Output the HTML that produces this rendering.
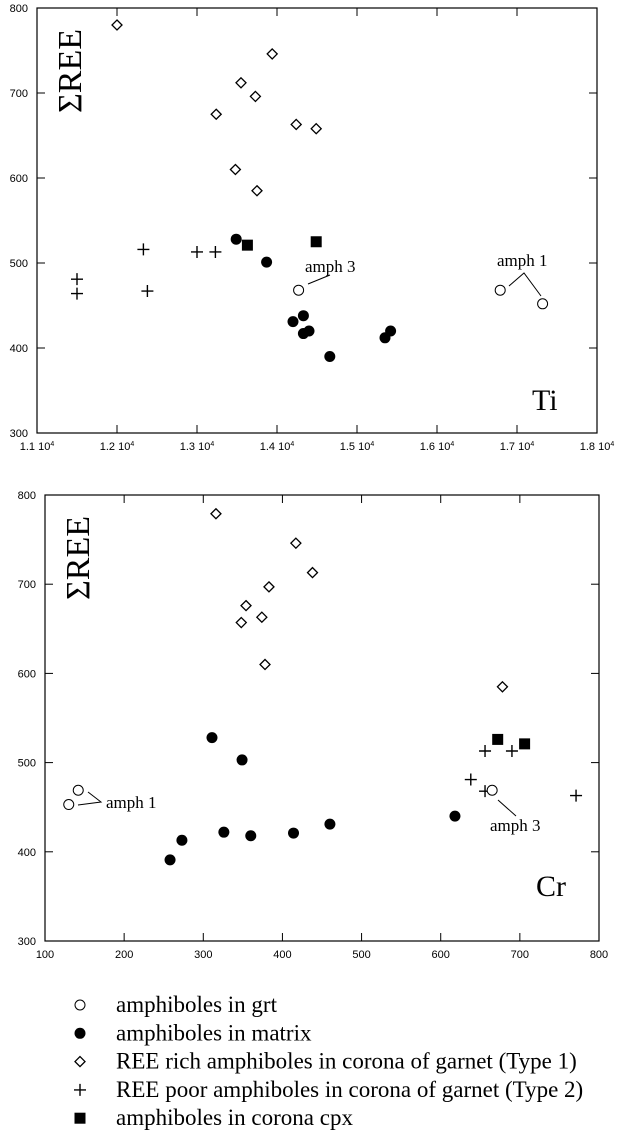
<!DOCTYPE html>
<html><head><meta charset="utf-8"><style>
html,body{margin:0;padding:0;background:#fff;}
svg{display:block;}
.tick{font-family:"Liberation Sans",sans-serif;font-size:11px;fill:#000;}
.serif{font-family:"Liberation Serif",serif;fill:#000;}
</style></head><body>
<svg id="chart" width="627" height="1135" viewBox="0 0 627 1135" xmlns="http://www.w3.org/2000/svg"></svg>
<script>
// ---- Ti panel data ----
const tiDiamondX=[1.20,1.394,1.355,1.373,1.324,1.424,1.449,1.348,1.375];
const tiDiamondY=[780,746,712,696,675,663,658,610,585];
const tiCrossX=[1.15,1.15,1.233,1.238,1.30,1.323];
const tiCrossY=[481,464,516,467,513,513];
const tiFilledX=[1.349,1.387,1.42,1.433,1.433,1.44,1.466,1.535,1.542];
const tiFilledY=[528,501,431,438,417,420,390,412,420];
const tiSquareX=[1.363,1.449];
const tiSquareY=[521,525];
const tiOpenX=[1.427,1.679,1.732];
const tiOpenY=[468,468,452];
const tiXTicks=[1.1,1.2,1.3,1.4,1.5,1.6,1.7,1.8];
const yTicks=[300,400,500,600,700,800];
// ---- Cr panel data ----
const crDiamondX=[316,417,438,383,354,374,348,378,678];
const crDiamondY=[779,746,713,697,676,663,657,610,585];
const crFilledX=[311,349,258,273,326,360,414,460,618];
const crFilledY=[528,503,391,413,422,418,421,431,440];
const crSquareX=[672,706];
const crSquareY=[526,521];
const crCrossX=[656,690,638,656,771];
const crCrossY=[513,513,481,468,463];
const crOpenX=[142,130,665];
const crOpenY=[469,453,469];
const crXTicks=[100,200,300,400,500,600,700,800];

const svg=document.getElementById('chart');
const NS='http://www.w3.org/2000/svg';
function mk(tag,attrs,parent){const e=document.createElementNS(NS,tag);for(const k in attrs)e.setAttribute(k,attrs[k]);(parent||svg).appendChild(e);return e;}

function marker(g,type,cx,cy){
  let e;
  if(type==='open'){e=mk('circle',{cx:cx,cy:cy,r:5,fill:'#fff',stroke:'#000','stroke-width':1},g);}
  else if(type==='filled'){e=mk('circle',{cx:cx,cy:cy,r:5.5,fill:'#000'},g);}
  else if(type==='diamond'){e=mk('path',{d:`M${cx} ${cy-5}L${cx+5} ${cy}L${cx} ${cy+5}L${cx-5} ${cy}Z`,fill:'#fff',stroke:'#000','stroke-width':1.3},g);}
  else if(type==='cross'){e=mk('path',{d:`M${cx-6} ${cy}H${cx+6}M${cx} ${cy-6}V${cy+6}`,stroke:'#000','stroke-width':1.4,fill:'none'},g);}
  else {e=mk('rect',{x:cx-5.5,y:cy-5.5,width:11,height:11,fill:'#000'},g);}
  return e;
}

function panel(p){
  const g=mk('g',{});
  
  
  const sx=v=>p.L+(v-p.xmin)/(p.xmax-p.xmin)*(p.R-p.L);
  const sy=v=>p.B-(v-300)/500*(p.B-p.T);
  const fr=mk('rect',{x:p.L,y:p.T,width:p.R-p.L,height:p.B-p.T,fill:'none',stroke:'#000','stroke-width':1.2},g);
  
  
  p.xt.forEach((t,i)=>{
    const x=sx(t);
    mk('line',{x1:x,y1:p.B,x2:x,y2:p.B-8,stroke:'#000'},g);
    mk('line',{x1:x,y1:p.T,x2:x,y2:p.T+8,stroke:'#000'},g);
    const tx=mk('text',{x:x,y:p.B+17,'text-anchor':'middle',class:'tick'},g);
    
    
    if(p.sci){tx.textContent=t.toFixed(1)+' 10';const s=mk('tspan',{dy:-4,'font-size':7},tx);s.textContent='4';}
    else tx.textContent=t;
  });
  yTicks.forEach(t=>{
    const y=sy(t);
    mk('line',{x1:p.L,y1:y,x2:p.L+8,y2:y,stroke:'#000'},g);
    mk('line',{x1:p.R,y1:y,x2:p.R-8,y2:y,stroke:'#000'},g);
    const tx=mk('text',{x:p.L-9,y:y+4,'text-anchor':'end',class:'tick'},g);
    
    
    tx.textContent=t;
  });
  p.series.forEach(s=>{
    s.x.forEach((v,i)=>{
      const m=marker(g,s.type,sx(v),sy(s.y[i]));
      
      
    });
  });
  const yl=mk('text',{x:0,y:0,class:'serif','font-size':34,transform:`translate(${p.L+44},${p.T+105}) rotate(-90)`},g);
  
  
  yl.textContent='ΣREE';
  const xl=mk('text',{x:p.xlx,y:p.xly,class:'serif','font-size':30},g);
  
  
  xl.textContent=p.xlabel;
  p.ann.forEach(a=>{
    const t=mk('text',{x:a.x,y:a.y,class:'serif','font-size':17},g);
    
    
    t.textContent=a.t;
    const l=mk('path',{d:a.d,stroke:'#000',fill:'none','stroke-width':1},g);
    
    
  });
}

panel({name:'ti-panel',L:37,R:597,T:8,B:433,xmin:1.1,xmax:1.8,xt:tiXTicks,sci:true,xlabel:'Ti',xlx:532,xly:410,
  series:[{type:'diamond',x:tiDiamondX,y:tiDiamondY},{type:'cross',x:tiCrossX,y:tiCrossY},{type:'filled',x:tiFilledX,y:tiFilledY},{type:'square',x:tiSquareX,y:tiSquareY},{type:'open',x:tiOpenX,y:tiOpenY}],
  ann:[{t:'amph 3',x:305,y:272,d:'M308 284 L330 275'},{t:'amph 1',x:497,y:266,d:'M509 286 L524 273 L541 296'}]});

panel({name:'cr-panel',L:45,R:599,T:495,B:941,xmin:100,xmax:800,xt:crXTicks,sci:false,xlabel:'Cr',xlx:536,xly:896,
  series:[{type:'diamond',x:crDiamondX,y:crDiamondY},{type:'filled',x:crFilledX,y:crFilledY},{type:'square',x:crSquareX,y:crSquareY},{type:'cross',x:crCrossX,y:crCrossY},{type:'open',x:crOpenX,y:crOpenY}],
  ann:[{t:'amph 1',x:106,y:808,d:'M88 792 L101 802 L78 805'},{t:'amph 3',x:490,y:831,d:'M498 800 L516 816'}]});

// legend
const legTypes=['open','filled','diamond','cross','square'];
const legLabels=['amphiboles in grt','amphiboles in matrix','REE rich amphiboles in corona of garnet (Type 1)','REE poor amphiboles in corona of garnet (Type 2)','amphiboles in corona cpx'];
const lg=mk('g',{});


legTypes.forEach((t,i)=>{
  const y=1005+i*28.3;
  const e=mk('g',{},lg);
  
  
  marker(e,t,80,y);
  const tx=mk('text',{x:116,y:y+7,class:'serif','font-size':23},e);
  tx.textContent=legLabels[i];
});
</script>
</body></html>
